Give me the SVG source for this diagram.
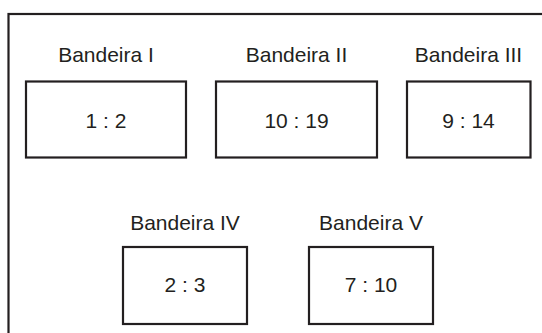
<svg xmlns="http://www.w3.org/2000/svg" width="542" height="333" viewBox="0 0 542 333">
<style>
.frame{fill:none;stroke:#231f20;stroke-width:2.2}
.box{fill:#fff;stroke:#231f20;stroke-width:2.2}
.lbl{font-family:"Liberation Sans",Arial,sans-serif;font-size:21px;fill:#231f20;text-anchor:middle}
.num{font-family:"Liberation Sans",Arial,sans-serif;font-size:21px;fill:#231f20;text-anchor:middle}
</style>
<rect width="542" height="333" fill="#fff"/>
<rect class="frame" x="8.5" y="14" width="600" height="400"/>
<g id="flag1">
<text class="lbl" x="106" y="62">Bandeira I</text>
<rect class="box" x="26" y="81.5" width="160" height="76"/>
<text class="num" x="106" y="127.5">1 : 2</text>
</g>
<g id="flag2">
<text class="lbl" x="296.5" y="62">Bandeira II</text>
<rect class="box" x="216" y="81.5" width="161" height="76"/>
<text class="num" x="296.5" y="127.5">10 : 19</text>
</g>
<g id="flag3">
<text class="lbl" x="468.5" y="62">Bandeira III</text>
<rect class="box" x="407" y="81.5" width="123.5" height="76"/>
<text class="num" x="468.5" y="127.5">9 : 14</text>
</g>
<g id="flag4">
<text class="lbl" x="185" y="230">Bandeira IV</text>
<rect class="box" x="123" y="247" width="124" height="77"/>
<text class="num" x="185" y="292">2 : 3</text>
</g>
<g id="flag5">
<text class="lbl" x="371" y="230">Bandeira V</text>
<rect class="box" x="309" y="247" width="124" height="77"/>
<text class="num" x="371" y="292">7 : 10</text>
</g>
<g id="connectors"></g>
</svg>
